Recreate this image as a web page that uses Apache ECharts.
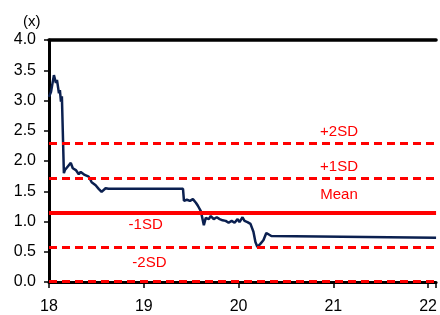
<!DOCTYPE html>
<html>
<head>
<meta charset="utf-8">
<script src="https://cdn.jsdelivr.net/npm/echarts@6/dist/echarts.min.js"></script>
<style>
  html, body { margin: 0; padding: 0; background: #fff; }
  #chart { width: 440px; height: 315px; }
</style>
</head>
<body>
<div id="chart"></div>
<script>
// valuation multiple over time (x = year, 18 = 2018)
const years = [18.000, 18.021, 18.052, 18.073, 18.084, 18.105, 18.115, 18.126, 18.136, 18.147,
  18.157, 18.168, 18.188, 18.209, 18.230, 18.251, 18.283, 18.314, 18.335, 18.356, 18.377, 18.398,
  18.419, 18.450, 18.471, 18.492, 18.524, 18.555, 18.576, 18.597, 18.628, 19.414, 19.424, 19.455,
  19.487, 19.518, 19.550, 19.571, 19.602, 19.623, 19.634, 19.654, 19.686, 19.707, 19.738, 19.770,
  19.801, 19.832, 19.864, 19.895, 19.927, 19.958, 19.990, 20.010, 20.042, 20.063, 20.094, 20.126,
  20.157, 20.178, 20.199, 20.230, 20.262, 20.293, 20.314, 20.346, 20.367, 22.084];
const multiple = [3.06, 3.14, 3.42, 3.29, 3.34, 3.12, 3.17, 2.98, 3.07, 3.04,
  1.80, 1.85, 1.88, 1.93, 1.97, 1.88, 1.85, 1.78, 1.82, 1.83, 1.77, 1.78,
  1.74, 1.65, 1.64, 1.60, 1.54, 1.49, 1.50, 1.55, 1.54, 1.54, 1.34, 1.36,
  1.34, 1.37, 1.31, 1.26, 1.17, 1.16, 0.94, 1.06, 1.04, 1.09, 1.04, 1.07,
  1.04, 1.02, 1.01, 0.98, 1.01, 0.98, 1.04, 0.99, 1.07, 1.01, 0.99, 0.96,
  0.83, 0.66, 0.58, 0.63, 0.69, 0.81, 0.83, 0.76, 0.73, 0.73];

// band levels
const bandNames = ['+2SD', '+1SD', 'Mean', '-1SD', '-2SD'];
const bandValues = [2.29, 1.72, 1.15, 0.58, 0.01];
// where the band labels sit (data space)
const labelX = [21.06, 21.06, 21.06, 19.02, 19.06];
const labelY = [2.48, 1.90, 1.44, 0.94, 0.31];

const xTicks = [18, 19, 20, 21, 22];

const font = "'Liberation Sans Narrow', 'Liberation Sans', sans-serif";
const red = '#ff0000';

const chart = echarts.init(document.getElementById('chart'));

const option = {
  animation: false,
  backgroundColor: '#fff',
  grid: { left: 49, right: 0, top: 40, bottom: 33 },
  graphic: [{
    type: 'text', left: 23, top: 14,
    style: { text: '(x)', font: '15px ' + font, fill: '#000' }
  }],
  xAxis: [{
    type: 'value',
    min: xTicks[0],
    max: 22.084,
    interval: 1,
    axisLine: { lineStyle: { color: '#000', width: 3 } },
    axisTick: { show: true, length: 6, lineStyle: { color: '#000', width: 1.5 } },
    axisLabel: {
      color: '#000', fontFamily: font, fontSize: 16, margin: 17,
      formatter: v => xTicks.includes(v) ? String(v) : ''
    },
    splitLine: { show: false }
  }, {
    type: 'value',
    position: 'top',
    min: xTicks[0],
    max: 22.084,
    axisLine: { show: true, lineStyle: { color: '#000', width: 3.5 } },
    axisTick: { show: false },
    axisLabel: { show: false },
    splitLine: { show: false }
  }],
  yAxis: {
    type: 'value',
    min: 0,
    max: 4,
    interval: 0.5,
    axisLine: { show: true, lineStyle: { color: '#000', width: 3 } },
    axisTick: { show: true, length: 5, lineStyle: { color: '#000', width: 1.5 } },
    axisLabel: {
      color: '#000', fontFamily: font, fontSize: 16, margin: 13,
      formatter: v => v.toFixed(1)
    },
    splitLine: { show: false }
  },
  series: [{
    type: 'line',
    xAxisIndex: 0,
    data: years.map((x, i) => [x, multiple[i]]),
    showSymbol: false,
    lineStyle: { color: '#0b2050', width: 2.5 },
    z: 3,
    markLine: {
      silent: true,
      symbol: 'none',
      label: { show: false },
      data: bandValues.map((v, i) => ({
        yAxis: v,
        lineStyle: bandNames[i] === 'Mean'
          ? { color: red, width: 4, type: 'solid' }
          : { color: red, width: 3, type: [8, 5] }
      }))
    },
    markPoint: {
      silent: true,
      symbol: 'circle',
      symbolSize: 0,
      label: { show: true, color: red, fontFamily: font, fontSize: 15, position: 'inside' },
      data: bandNames.map((n, i) => ({
        coord: [labelX[i], labelY[i]],
        label: { formatter: n }
      }))
    }
  }]
};

chart.setOption(option);
</script>
</body>
</html>
